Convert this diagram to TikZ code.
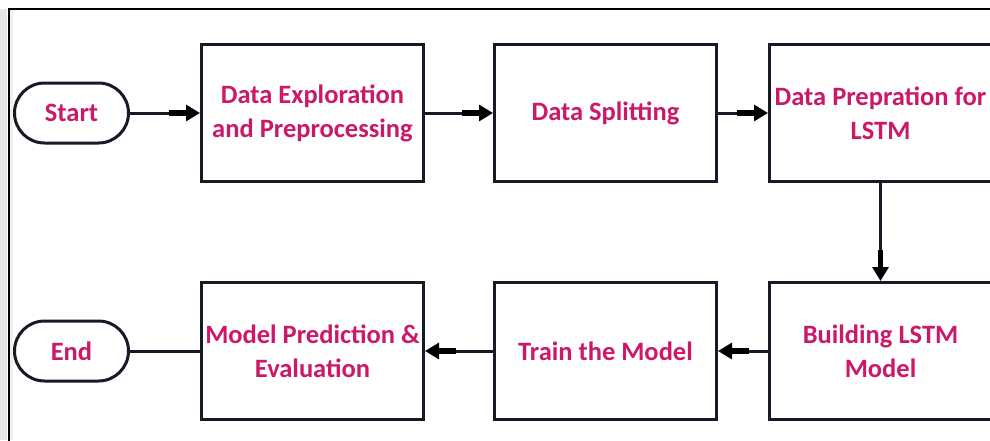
\documentclass[tikz,border=0pt]{standalone}
\usepackage{fontspec}
\setmainfont{Carlito}
\usetikzlibrary{arrows.meta,positioning}
\definecolor{txtc}{RGB}{204,24,104}
\definecolor{linec}{RGB}{22,26,38}
\tikzset{
  procbox/.style={draw=linec, line width=3pt, minimum width=222pt, minimum height=137pt,
    align=center, text=txtc, font=\fontsize{26.5}{34}\selectfont\bfseries, inner sep=2pt},
  termbox/.style={draw=linec, line width=3pt, minimum width=114pt, minimum height=60pt,
    rounded corners=30pt, text=txtc, font=\fontsize{26.5}{34}\selectfont\bfseries},
  flow/.style={draw=linec, line width=3pt,
    -{Rectangle[length=17pt,width=5.5pt,sep=0pt,color=black]Triangle[length=14pt,width=16pt,color=black]}},
  plainflow/.style={draw=linec, line width=3pt}
}
\begin{document}
\begin{tikzpicture}[x=1pt,y=-1pt]
\useasboundingbox (0,0) rectangle (990,440);
\clip (0,0) rectangle (990,440);
\fill[white] (0,0) rectangle (990,440);
\fill[black!10] (0,9) rectangle (7,440);
\fill[black!6] (10,10) rectangle (13,440);
\draw[line width=2pt, black] (9,9) rectangle (1000,460);

\node[termbox] (start) at (71.5,113) {Start};
\node[procbox] (b1) at (312.5,113) {Data Exploration\\and Preprocessing};
\node[procbox] (b2) at (605.5,113) {Data Splitting};
\node[procbox] (b3) at (880.5,113) {Data Prepration for\\LSTM};
\node[procbox] (b4) at (880.5,351) {Building LSTM\\Model};
\node[procbox] (b5) at (605.5,351) {Train the Model};
\node[procbox] (b6) at (312.5,351) {Model Prediction \&\\Evaluation};
\node[termbox] (end) at (71.5,351) {End};

\draw[flow] (start.east) -- (b1.west);
\draw[flow] (b1.east) -- (b2.west);
\draw[flow] (b2.east) -- (b3.west);
\draw[flow] (b3.south) -- (b4.north);
\draw[flow] (b4.west) -- (b5.east);
\draw[flow] (b5.west) -- (b6.east);
\draw[plainflow] (b6.west) -- (end.east);
\end{tikzpicture}
\end{document}
